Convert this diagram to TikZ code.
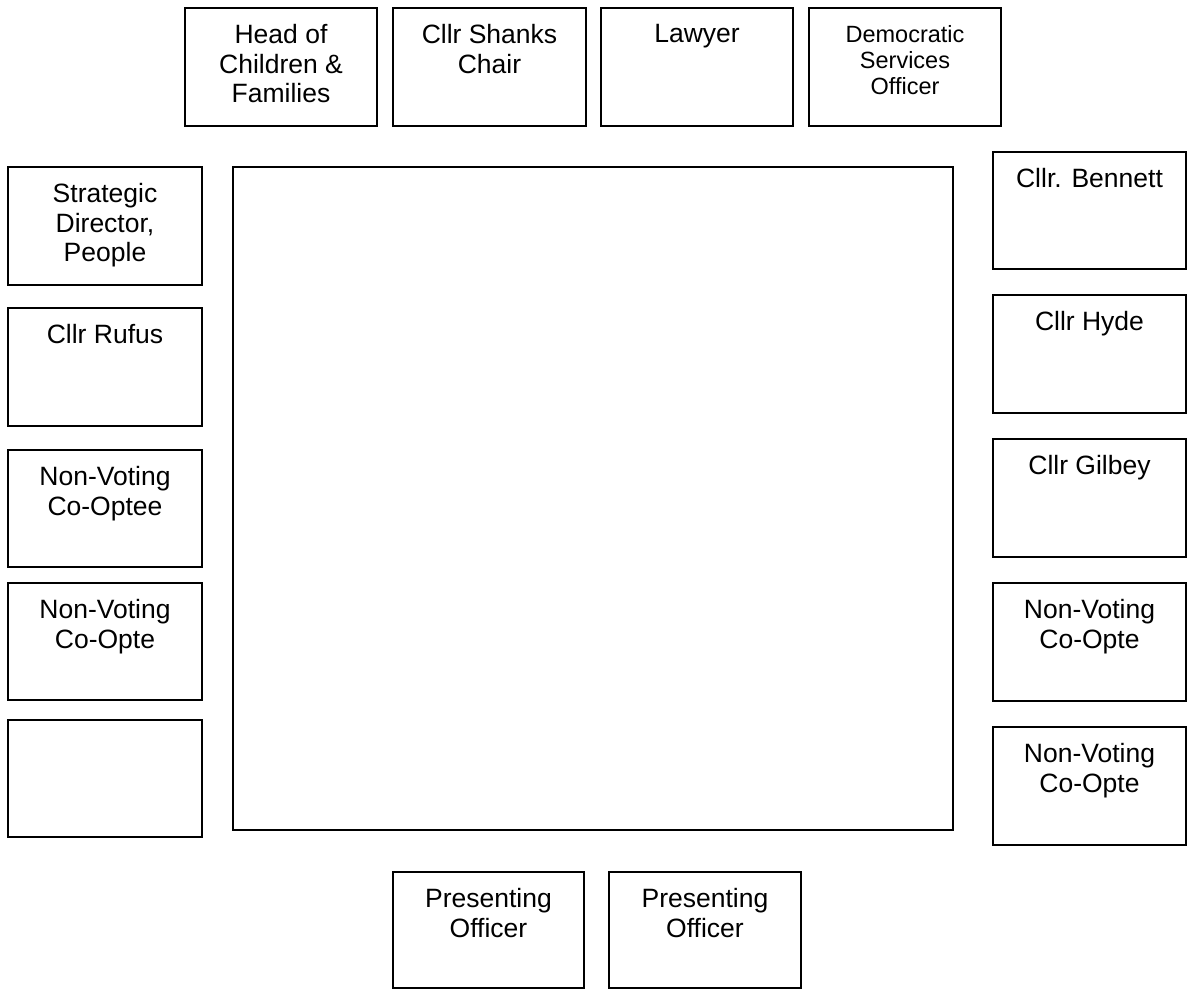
\documentclass[tikz,border=0pt]{standalone}
\usepackage{fontspec}
\setmainfont{Liberation Sans}
\begin{document}
\begin{tikzpicture}[x=1pt,y=-1pt,
  seat/.style={draw=black, line width=1.7pt, rectangle, inner sep=0pt, minimum width=192pt, minimum height=118pt},
  lbl/.style={anchor=north, align=center, inner sep=0pt, font=\fontsize{26.5}{29.5}\selectfont},
  slbl/.style={anchor=north, align=center, inner sep=0pt, font=\fontsize{23.5}{26}\selectfont}]
\useasboundingbox[fill=white] (0,0) rectangle (1187,990);
% top row
\node[seat] (hcf) at (281,67) {};
\node[seat, minimum width=193pt] (shanks) at (489.5,67) {};
\node[seat] (lawyer) at (697,67) {};
\node[seat] (dso) at (905,67) {};
% table
\node[seat, minimum width=720pt, minimum height=663pt] (table) at (593,498.5) {};
% left column
\node[seat, minimum width=194pt] (sdp) at (105,226) {};
\node[seat, minimum width=194pt] (rufus) at (105,367) {};
\node[seat, minimum width=194pt, minimum height=117pt] (nvl1) at (105,508.5) {};
\node[seat, minimum width=194pt, minimum height=117pt] (nvl2) at (105,641.5) {};
\node[seat, minimum width=194pt, minimum height=117pt] (empty) at (105,778.5) {};
% right column
\node[seat, minimum width=193pt, minimum height=117pt] (bennett) at (1089.5,210.5) {};
\node[seat, minimum width=193pt] (hyde) at (1089.5,354) {};
\node[seat, minimum width=193pt] (gilbey) at (1089.5,498) {};
\node[seat, minimum width=193pt] (nvr1) at (1089.5,642) {};
\node[seat, minimum width=193pt] (nvr2) at (1089.5,786) {};
% bottom
\node[seat, minimum width=191pt, minimum height=116pt] (po1) at (488.5,930) {};
\node[seat, minimum height=116pt] (po2) at (705,930) {};
% labels
\node[lbl] (thcf) at ([yshift=-17pt]hcf.north) {Head of\\Children \&\\Families};
\node[lbl] (tshanks) at ([yshift=-17pt]shanks.north) {Cllr Shanks\\Chair};
\node[lbl] (tlawyer) at ([yshift=-17pt]lawyer.north) {Lawyer};
\node[slbl] (tdso) at ([yshift=-18pt]dso.north) {Democratic\\Services\\Officer};
\node[lbl] (tsdp) at ([yshift=-17pt]sdp.north) {Strategic\\Director,\\People};
\node[lbl] (trufus) at ([yshift=-17pt]rufus.north) {Cllr Rufus};
\node[lbl] (tnvl1) at ([yshift=-17pt]nvl1.north) {Non-Voting\\Co-Optee};
\node[lbl] (tnvl2) at ([yshift=-17pt]nvl2.north) {Non-Voting\\Co-Opte};
\node[lbl] (tbennett) at ([yshift=-17pt]bennett.north) {Cllr. Bennett};
\node[lbl] (thyde) at ([yshift=-17pt]hyde.north) {Cllr Hyde};
\node[lbl] (tgilbey) at ([yshift=-17pt]gilbey.north) {Cllr Gilbey};
\node[lbl] (tnvr1) at ([yshift=-17pt]nvr1.north) {Non-Voting\\Co-Opte};
\node[lbl] (tnvr2) at ([yshift=-17pt]nvr2.north) {Non-Voting\\Co-Opte};
\node[lbl] (tpo1) at ([yshift=-17pt]po1.north) {Presenting\\Officer};
\node[lbl] (tpo2) at ([yshift=-17pt]po2.north) {Presenting\\Officer};
\end{tikzpicture}
\end{document}
